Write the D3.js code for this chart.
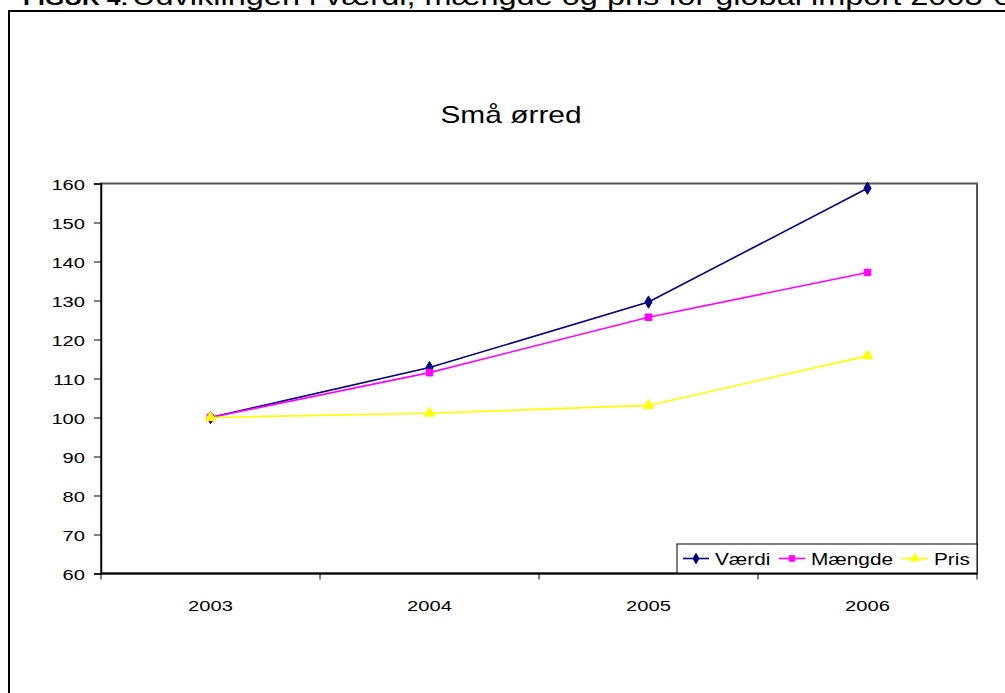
<!DOCTYPE html>
<html>
<head>
<meta charset="utf-8">
<script src="https://cdn.jsdelivr.net/npm/d3@7"></script>
<style>
  html, body { margin: 0; padding: 0; background: #fff; }
  svg { display: block; }
  text { font-family: "Liberation Sans", Arial, sans-serif; fill: #000; }
</style>
</head>
<body>
<svg id="chart" width="1005" height="693"></svg>
<script>
const categories = ["2003", "2004", "2005", "2006"];
const vaerdi = [100, 112.8, 129.6, 158.8];
const maengde = [100, 111.5, 125.7, 137.2];
const pris = [100, 101.1, 103.1, 115.8];
const yTicks = [60, 70, 80, 90, 100, 110, 120, 130, 140, 150, 160];
const seriesNames = ["Værdi", "Mængde", "Pris"];
const chartTitle = "Små ørred";
const headerBold = "FIGUR 4:";
const headerText = "Udviklingen i værdi, mængde og pris for global import 2003-06";

const SX = 1.3; // horizontal stretch of the reference's text

const series = [
  { name: seriesNames[0], values: vaerdi, color: "#000080", symbol: d3.symbolDiamond, size: 44 },
  { name: seriesNames[1], values: maengde, color: "#FF00FF", symbol: d3.symbolSquare, size: 44 },
  { name: seriesNames[2], values: pris, color: "#FFFF00", symbol: d3.symbolTriangle, size: 46 }
];

const svg = d3.select("#chart");
svg.append("rect").attr("width", 1005).attr("height", 693).attr("fill", "#fff");

function stretchedText(parent, x, y, str, size, anchor, weight) {
  return parent.append("text")
    .attr("transform", `translate(${x},${y}) scale(${SX},1)`)
    .attr("text-anchor", anchor || "start")
    .style("font-size", size + "px")
    .style("font-weight", weight || "normal")
    .text(str);
}

// header (cut off at top)
stretchedText(svg, 23, 5, headerBold, 19, "start", "bold");
stretchedText(svg, 132, 5, headerText, 25, "start");

// outer chart border
svg.append("rect").attr("x", 9).attr("y", 11).attr("width", 1010).attr("height", 700)
  .attr("fill", "none").attr("stroke", "#000").attr("stroke-width", 2);

const L = 101, R = 977, T = 183.5, B = 573.5;
const x = d3.scaleBand().domain(categories).range([L, R]).paddingInner(0).paddingOuter(0);
const y = d3.scaleLinear().domain([60, 160]).range([B, T]);

// plot area border
svg.append("rect").attr("x", L).attr("y", T).attr("width", R - L).attr("height", B - T)
  .attr("fill", "none").attr("stroke", "#555").attr("stroke-width", 2);

// title
stretchedText(svg, 511, 123, chartTitle, 23, "middle");

// y axis
const yAxis = svg.append("g").attr("transform", `translate(${L},0)`)
  .call(d3.axisLeft(y).tickValues(yTicks).tickSize(7).tickFormat(d3.format("d")));
yAxis.select(".domain").attr("stroke", "#000").attr("stroke-width", 1.5);
yAxis.selectAll(".tick line").attr("stroke", "#000");
yAxis.selectAll(".tick text")
  .attr("x", 0).attr("dy", "0.36em")
  .attr("transform", `translate(-16,0) scale(${SX},1)`)
  .style("font-size", "15.5px").style("font-family", "Liberation Sans, Arial, sans-serif").attr("fill", "#000");

// x axis (labels at category centers, ticks at band edges)
const xAxis = svg.append("g").attr("transform", `translate(0,${B})`)
  .call(d3.axisBottom(x).tickSize(0));
xAxis.select(".domain").remove();
xAxis.selectAll(".tick text")
  .attr("y", 0).attr("dy", 0)
  .attr("transform", `translate(0,37) scale(${SX},1)`)
  .style("font-size", "15.5px").style("font-family", "Liberation Sans, Arial, sans-serif").attr("fill", "#000");
svg.append("line").attr("x1", L).attr("x2", R).attr("y1", B).attr("y2", B)
  .attr("stroke", "#000").attr("stroke-width", 2);
const edges = categories.map(c => x(c)).concat([x(categories[categories.length - 1]) + x.bandwidth()]);
svg.append("g").selectAll("line").data(edges).join("line")
  .attr("x1", d => d).attr("x2", d => d).attr("y1", B).attr("y2", B + 6)
  .attr("stroke", "#000").attr("stroke-width", 1);

// lines and markers
const cx = c => x(c) + x.bandwidth() / 2;
series.forEach(s => {
  const pts = categories.map((c, i) => [cx(c), y(s.values[i])]);
  svg.append("path").attr("d", d3.line()(pts)).attr("fill", "none")
    .attr("stroke", s.color).attr("stroke-width", 1.6);
  svg.append("g").selectAll("path").data(pts).join("path")
    .attr("transform", d => `translate(${d[0]},${d[1]})`)
    .attr("d", d3.symbol().type(s.symbol).size(s.size))
    .attr("fill", s.color).attr("stroke", s.color).attr("stroke-width", 1);
});

// legend
const lg = svg.append("g");
lg.append("rect").attr("x", 677).attr("y", 544).attr("width", 300).attr("height", 29)
  .attr("fill", "#fff").attr("stroke", "#000").attr("stroke-width", 1);
const legendX = [683, 779, 902];
series.forEach((s, i) => {
  const x0 = legendX[i], yy = 558.5;
  lg.append("line").attr("x1", x0).attr("x2", x0 + 26).attr("y1", yy).attr("y2", yy)
    .attr("stroke", s.color).attr("stroke-width", 1.6);
  lg.append("path").attr("transform", `translate(${x0 + 13},${yy})`)
    .attr("d", d3.symbol().type(s.symbol).size(s.size * 0.7))
    .attr("fill", s.color).attr("stroke", s.color);
  stretchedText(lg, x0 + 32, yy + 6, s.name, 16, "start");
});
</script>
</body>
</html>
